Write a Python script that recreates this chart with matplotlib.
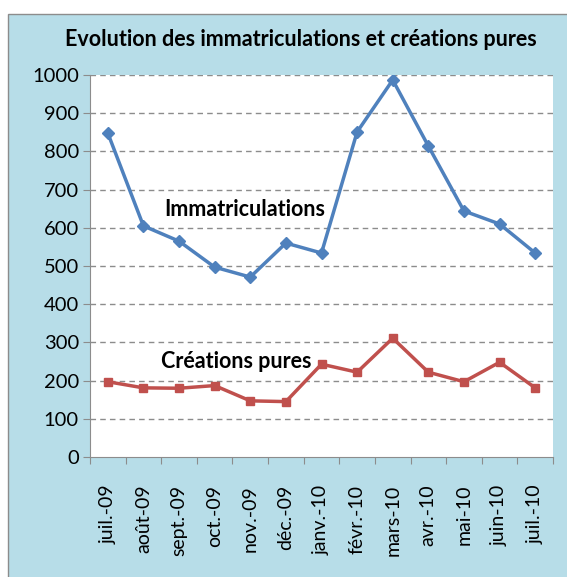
import matplotlib
matplotlib.use("Agg")
import matplotlib.pyplot as plt
from matplotlib.patches import Rectangle

# données
mois = ["juil.-09", "août-09", "sept.-09", "oct.-09", "nov.-09", "déc.-09",
        "janv.-10", "févr.-10", "mars-10", "avr.-10", "mai-10", "juin-10", "juil.-10"]
immatriculations = [848, 605, 565, 497, 471, 560, 534, 851, 987, 814, 644, 610, 534]
creations_pures = [197, 181, 180, 187, 147, 145, 243, 222, 311, 222, 197, 248, 181]

plt.rcParams['font.family'] = ['Lato', 'DejaVu Sans']

fig = plt.figure(figsize=(5.67, 5.77), dpi=100)
fig.patch.set_facecolor("white")
# fond bleu du cadre
fig.patches.append(Rectangle((8 / 567, -0.01), 1.0, 1.01 - 14 / 577, transform=fig.transFigure,
                             facecolor="#B7DDE8", edgecolor="#8C8C8C", linewidth=1, zorder=-1))

ax = fig.add_axes([90 / 567, 1 - 457 / 577, 463 / 567, 382 / 577])
ax.set_facecolor("white")

x = list(range(len(mois)))
ax.plot(x, immatriculations, color="#4F81BD", linewidth=2.5, marker="D", markersize=6, zorder=3)
ax.plot(x, creations_pures, color="#C0504D", linewidth=2.5, marker="s", markersize=6, zorder=3)

ax.set_ylim(0, 1000)
ax.set_xlim(-0.5, len(mois) - 0.5)
ax.set_yticks(range(0, 1001, 100))
ax.tick_params(axis="y", labelsize=14.5, length=5, color="#8C8C8C", direction="out", pad=3)

# graduations entre les catégories, étiquettes au centre
ax.set_xticks([i - 0.5 for i in range(len(mois) + 1)])
ax.set_xticklabels([])
ax.tick_params(axis="x", which="major", length=5, color="#8C8C8C", direction="out")
ax.set_xticks(x, minor=True)
ax.set_xticklabels(mois, minor=True, rotation=90, fontsize=14)
ax.tick_params(axis="x", which="minor", length=0, pad=20)

for v in range(100, 1001, 100):
    ax.axhline(v, color="#8C8C8C", linestyle=(0, (4, 3)), linewidth=1, zorder=1)

for side in ["top", "right"]:
    ax.spines[side].set_visible(False)
for side in ["left", "bottom"]:
    ax.spines[side].set_color("#8C8C8C")

ax.text(3.85, 647, "Immatriculations", fontsize=15.5, fontweight="bold", ha="center", va="center")
ax.text(3.6, 249, "Créations pures", fontsize=15.5, fontweight="bold", ha="center", va="center")

fig.text(301 / 567, 1 - 40 / 577, "Evolution des immatriculations et créations pures",
         fontsize=15.5, fontweight="bold", ha="center", va="center")

fig.savefig("out.png", dpi=100)
